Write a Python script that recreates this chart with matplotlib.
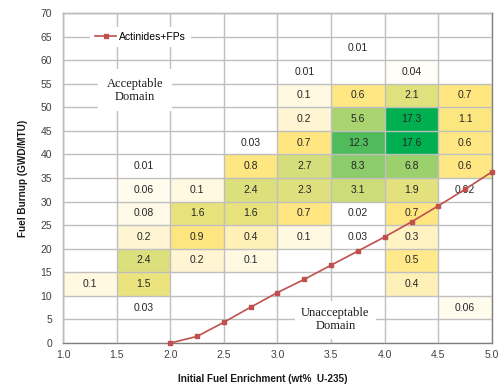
import numpy as np
import matplotlib
matplotlib.use("Agg")
import matplotlib.pyplot as plt
from matplotlib.colors import LinearSegmentedColormap, LogNorm

# ---- data ----
enrich_edges = [1.0, 1.5, 2.0, 2.5, 3.0, 3.5, 4.0, 4.5, 5.0]
burnup_edges = list(range(0, 75, 5))
N = None
# rows from burnup 0-5 (bottom) up to 65-70 (top); columns enrichment bins
cell_values = [
    [N, N, N, N, N, N, N, N],                      # 0-5
    [N, 0.03, N, N, N, N, N, 0.06],                # 5-10
    [0.1, 1.5, N, N, N, N, 0.4, N],                # 10-15
    [N, 2.4, 0.2, 0.1, N, N, 0.5, N],              # 15-20
    [N, 0.2, 0.9, 0.4, 0.1, 0.03, 0.3, N],         # 20-25
    [N, 0.08, 1.6, 1.6, 0.7, 0.02, 0.7, N],        # 25-30
    [N, 0.06, 0.1, 2.4, 2.3, 3.1, 1.9, 0.02],      # 30-35
    [N, 0.01, N, 0.8, 2.7, 8.3, 6.8, 0.6],         # 35-40
    [N, N, N, 0.03, 0.7, 12.3, 17.6, 0.6],         # 40-45
    [N, N, N, N, 0.2, 5.6, 17.3, 1.1],             # 45-50
    [N, N, N, N, 0.1, 0.6, 2.1, 0.7],              # 50-55
    [N, N, N, N, 0.01, N, 0.04, N],                # 55-60
    [N, N, N, N, N, 0.01, N, N],                   # 60-65
    [N, N, N, N, N, N, N, N],                      # 65-70
]
line_enrich = [2.0, 2.25, 2.5, 2.75, 3.0, 3.25, 3.5, 3.75, 4.0, 4.25, 4.5, 4.75, 5.0]
line_burnup = [0.0, 1.4, 4.4, 7.6, 10.7, 13.5, 16.5, 19.5, 22.5, 25.7, 29.1, 32.6, 36.3]
line_label = "Actinides+FPs"

# ---- colour scale (log) ----
vmin, vmax = 0.01, 17.6
anchors = [(0.01, "#FFFFFF"), (0.03, "#FFFFFF"), (0.06, "#FFFCEE"), (0.1, "#FFF9E2"),
           (0.2, "#FFF5D2"), (0.4, "#FFF0B8"), (0.5, "#FFE98A"), (0.7, "#FFE680"),
           (1.1, "#FCE680"), (1.6, "#E8E27D"), (2.4, "#DCE07C"), (5.6, "#A9D470"),
           (8.3, "#8FCD6B"), (12.3, "#50BB5A"), (17.6, "#00B050")]
L = np.log(vmax / vmin)
cmap = LinearSegmentedColormap.from_list(
    "excel", [(np.log(v / vmin) / L, c) for v, c in anchors])
norm = LogNorm(vmin=vmin, vmax=vmax)

plt.rcParams['font.family'] = ['Liberation Sans', 'DejaVu Sans']
fig = plt.figure(figsize=(5.02, 3.92), dpi=100)
ax = fig.add_axes([0.1255, 0.125, 0.8545, 0.842])

arr = np.array([[np.nan if v is None else v for v in row] for row in cell_values], dtype=float)
ax.pcolormesh(enrich_edges, burnup_edges, np.ma.masked_invalid(arr), cmap=cmap, norm=norm,
              zorder=1)

xc = [(a + b) / 2 for a, b in zip(enrich_edges[:-1], enrich_edges[1:])]
yc = [(a + b) / 2 for a, b in zip(burnup_edges[:-1], burnup_edges[1:])]
for i, row in enumerate(cell_values):
    for j, v in enumerate(row):
        if v is not None:
            ax.text(xc[j], yc[i], f"{v:g}", ha='center', va='center', fontsize=7.5,
                    color='#262626', zorder=3.2)

ax.plot(line_enrich, line_burnup, color='#C0504D', lw=1.2, marker='s', ms=3.5,
        label=line_label, zorder=4, clip_on=False)

ax.set_xlim(1.0, 5.0)
ax.set_ylim(0, 70)
ax.set_xticks(np.arange(1.0, 5.01, 0.5))
ax.set_xticklabels([f"{v:.1f}" for v in np.arange(1.0, 5.01, 0.5)])
ax.set_yticks(range(0, 71, 5))
ax.grid(True, color='#BFBFBF', lw=1.0)
ax.set_axisbelow(False)
ax.tick_params(length=0, labelsize=7.5, colors='#404040')
ax.tick_params(axis='y', pad=8)
ax.tick_params(axis='x', pad=5)
for s in ax.spines.values():
    s.set_color('#808080')
    s.set_linewidth(1.0)

ax.set_xlabel("Initial Fuel Enrichment (wt%  U-235)", fontsize=7.2, fontweight='bold',
              color='#1a1a1a')
ax.xaxis.set_label_coords(0.466, -0.095)
ax.set_ylabel("Fuel Burnup (GWD/MTU)", fontsize=7.2, fontweight='bold', color='#1a1a1a',
              labelpad=9)

ax.text(1.67, 53.6, "Acceptable\nDomain", ha='center', va='center', fontsize=9,
        family='Liberation Serif', color='#1a1a1a', linespacing=1.1, zorder=3,
        bbox=dict(boxstyle='square,pad=0.7', fc='white', ec='none'))
ax.text(3.54, 4.9, "Unacceptable\nDomain", ha='center', va='center', fontsize=9,
        family='Liberation Serif', color='#1a1a1a', linespacing=1.1, zorder=3,
        bbox=dict(boxstyle='square,pad=0.5', fc='white', ec='none'))

leg = ax.legend(loc='center left', bbox_to_anchor=(0.063, 0.927), fontsize=7.5,
                frameon=True, fancybox=False, framealpha=1, edgecolor='none',
                handlelength=2.0, handletextpad=0.3, borderpad=0.5, borderaxespad=0)
leg.set_zorder(5)

fig.savefig("out.png", dpi=100)
